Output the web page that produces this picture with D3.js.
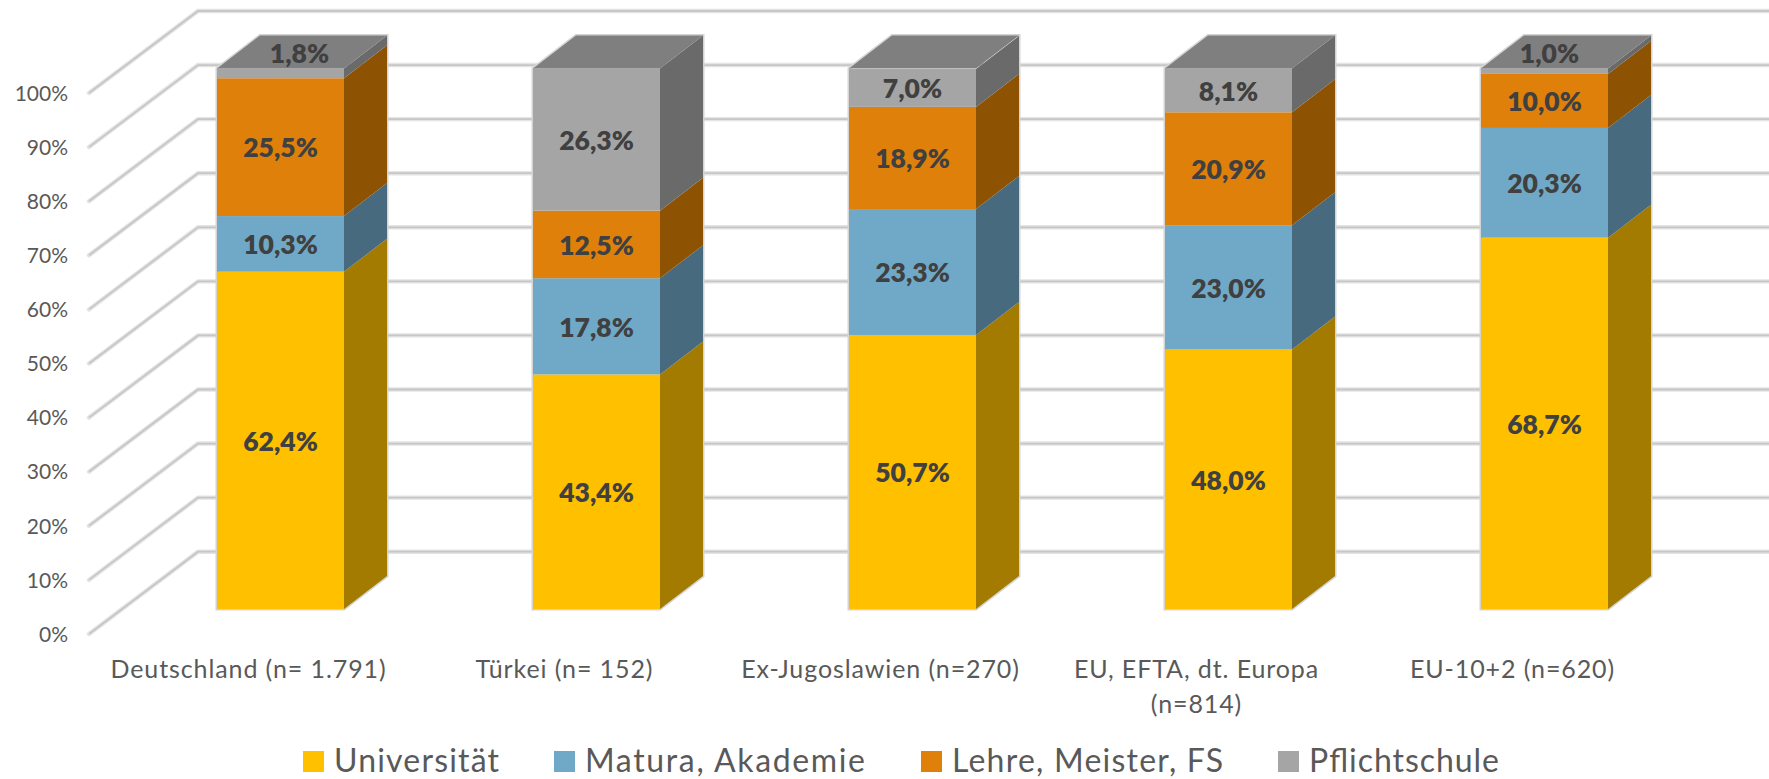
<!DOCTYPE html>
<html><head><meta charset="utf-8">
<script src="https://cdnjs.cloudflare.com/ajax/libs/d3/7.8.5/d3.min.js"></script>
<style>html,body{margin:0;padding:0;background:#fff}svg{display:block}text{font-family:Lato,"Open Sans",sans-serif}</style>
</head><body><svg id="c" width="1769" height="779"></svg>
<script>
const categories=[["Deutschland (n= 1.791)"],["Türkei (n= 152)"],["Ex-Jugoslawien (n=270)"],["EU, EFTA, dt. Europa","(n=814)"],["EU-10+2 (n=620)"]];
const seriesNames=["Universität","Matura, Akademie","Lehre, Meister, FS","Pflichtschule"];
const universitaet=[62.4,43.4,50.7,48.0,68.7];
const matura=[10.3,17.8,23.3,23.0,20.3];
const lehre=[25.5,12.5,18.9,20.9,10.0];
const pflicht=[1.8,26.3,7.0,8.1,1.0];
const tickValues=d3.range(0,101,10);
const colors=["#FFC000","#70A9C8","#DF800B","#A5A5A5"];
const sideColors=["#A37B00","#486A7E","#8D5303","#6A6A6A"];
const topColor="#7F7F7F";
const legendX=[303,554,921,1278];
const legendW=[165,280,271,190];
const series=[universitaet,matura,lehre,pflicht];
const svg=d3.select("#c");
const fmt=v=>v.toFixed(1).replace(".",",")+"%";
const yFront=d3.scaleLinear().domain([0,100]).range([609,68.5]);
const yBack=d3.scaleLinear().domain([0,100]).range([551.7,11]);
const yAxis=d3.scaleLinear().domain([0,100]).range([634,93]);
const x=d3.scaleBand().domain(d3.range(5)).range([122.5,122.5+316*5]);
const barW=127,dx=43,dy=33;
const gridLeft=89,wallLeft=198,gridRight=1769;
const line=d3.line();
const g=svg.append("g");
tickValues.forEach(t=>{
 const p=[[gridLeft,yAxis(t)],[wallLeft,yBack(t)],[gridRight,yBack(t)]];
 g.append("path").attr("d",line(p)).attr("fill","none").attr("stroke","#e4e4e4").attr("stroke-width",4.4).attr("stroke-linecap","round");
 g.append("path").attr("d",line(p)).attr("fill","none").attr("stroke","#c6c6c6").attr("stroke-width",1.8);
});
const axis=d3.axisLeft(yAxis).tickValues(tickValues).tickFormat(d=>d+"%").tickSize(0).tickPadding(0);
const ag=svg.append("g").attr("transform","translate(68,0.5)").call(axis);
ag.select(".domain").remove();
ag.selectAll("text").attr("font-size",21).attr("fill","#595959").style("font-family","Lato");
const nudge={0:19,4:5};
categories.forEach((c,i)=>{
 const x0=x(i)+(x.bandwidth()-barW)/2,x1=x0+barW,x2=x1+dx;
 const bg=svg.append("g");
 let cum=0;
 bg.append("path").attr("d",line([[x0,yFront(0)],[x1,yFront(0)],[x2,yFront(0)-dy],[x2,yFront(100)-dy],[x0+dx,yFront(100)-dy],[x0,yFront(100)]])+"Z")
  .attr("fill","none").attr("stroke","#d4d4d4").attr("stroke-width",3);
 series.forEach((s,k)=>{
  const y0=yFront(cum),y1=yFront(cum+s[i]);
  bg.append("rect").attr("x",x0).attr("y",y1).attr("width",barW).attr("height",y0-y1).attr("fill",colors[k]);
  bg.append("path").attr("d",line([[x1,y0],[x2,y0-dy],[x2,y1-dy],[x1,y1]])+"Z").attr("fill",sideColors[k]);
  cum+=s[i];
 });
 bg.append("path").attr("d",line([[x0,yFront(100)],[x0+dx,yFront(100)-dy],[x2,yFront(100)-dy],[x1,yFront(100)]])+"Z").attr("fill",topColor);
 cum=0;
 series.forEach((s,k)=>{
  const v=s[i];
  const small=v<2;
  const cy=small?54:yFront(cum+v/2)+1;
  const cx=(x0+x1)/2+(small?nudge[i]:0);
  svg.append("text").attr("x",cx).attr("y",cy).attr("dy","0.35em").attr("text-anchor","middle")
   .attr("font-size",26.5).attr("font-weight",800).attr("fill","#404040").text(fmt(v));
  cum+=v;
 });
 c.forEach((t,j)=>svg.append("text").attr("x",(x0+x1)/2-32).attr("y",678+j*35).attr("text-anchor","middle")
   .attr("font-size",25).attr("letter-spacing",0.9).attr("fill","#595959").text(t));
});
seriesNames.forEach((n,k)=>{
 svg.append("rect").attr("x",legendX[k]).attr("y",751).attr("width",21).attr("height",21).attr("fill",colors[k]);
 svg.append("text").attr("x",legendX[k]+31).attr("y",772).attr("font-size",32).attr("fill","#595959").attr("textLength",legendW[k]).attr("lengthAdjust","spacing").text(n);
});
</script></body></html>
